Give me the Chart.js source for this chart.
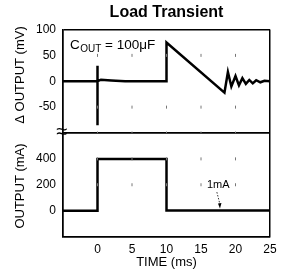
<!DOCTYPE html>
<html><head><meta charset="utf-8">
<script src="https://cdn.jsdelivr.net/npm/chart.js@4/dist/chart.umd.min.js"></script>
<style>html,body{margin:0;padding:0;background:#fff}#wrap{width:287px;height:276px;position:relative}</style>
</head><body><div id="wrap"><canvas id="c" width="287" height="276"></canvas></div>
<script>
// ---- data ----
const timeTicks = [-5, 0, 5, 10, 15, 20, 25];
const mvTicks = [-100, -50, 0, 50, 100];
const maTicks = [-200, 0, 200, 400, 600];

const voltTime  = [-5, 0, 0, 0, 0, 0.5, 2, 4, 10, 10, 18.4, 18.9, 19.4, 20.0, 20.5, 21.0, 21.5, 22.0, 22.5, 23.0, 23.6, 24.2, 25];
const voltDelta = [ 0, 0, 30, -85, 0, 3, 1.5, 0, 0, 75, -22, 18, -10, 10, -8, 6, -5, 2.5, -4, 2, -2, 1, 0];

const currTime = [-5, 0, 0, 10, 10, 25];
const currLoad = [ 0, 0, 400, 400, 1, 1];

const dotTimes = [0, 5, 10, 15, 20];
const dotMv = [-100, -50, 50];
const dotMa = [200, 400];

const FONT = "'Liberation Sans', Arial, Helvetica, sans-serif";

const toPts = (xs, ys) => xs.map((x, i) => ({x: x, y: ys[i]}));
const grid = (xs, ys) => { const o = []; xs.forEach(x => ys.forEach(y => o.push({x, y}))); return o; };
const edgeColor = edges => ctx => (ctx.tick && edges.includes(ctx.tick.value)) ? '#000' : 'rgba(0,0,0,0)';
const setTicks = vals => s => { s.ticks = vals.map(v => ({value: v})); };

const textPlugin = {
  id: 'texts',
  afterDraw(chart) {
    const c = chart.ctx, a = chart.chartArea, xs = chart.scales.x, yV = chart.scales.yV, yI = chart.scales.yI;
    c.save();
    c.fillStyle = '#000';
    c.textBaseline = 'middle';
    // title
    c.font = 'bold 16px ' + FONT; c.textAlign = 'center';
    c.fillText('Load Transient', (a.left + a.right) / 2, 13);
    // x title
    c.font = '13px ' + FONT;
    c.fillText('TIME (ms)', (a.left + a.right) / 2, 262);
    // y titles
    c.save(); c.translate(20, 75); c.rotate(-Math.PI / 2); c.fillText('\u0394 OUTPUT (mV)', 0, 0); c.restore();
    c.save(); c.translate(20, 186); c.rotate(-Math.PI / 2); c.fillText('OUTPUT (mA)', 0, 0); c.restore();
    // break mark
    c.font = '20px ' + FONT;
    c.fillText('\u2248', a.left - 1, yV.bottom - 1);
    // C_OUT annotation
    c.textAlign = 'left';
    let px = xs.getPixelForValue(-4), py = yV.getPixelForValue(69);
    c.font = '13.5px ' + FONT; c.fillText('C', px, py); px += c.measureText('C').width + 0.5;
    c.font = '10px ' + FONT; c.fillText('OUT', px, py + 4); px += c.measureText('OUT').width;
    c.font = '13.5px ' + FONT; c.fillText(' = 100\u03bcF', px, py);
    // 1mA annotation
    c.textAlign = 'center';
    c.font = '11px ' + FONT;
    c.fillText('1mA', xs.getPixelForValue(17.5), yI.getPixelForValue(196));
    const x0 = xs.getPixelForValue(17.3), y0 = yI.getPixelForValue(143);
    const x1 = xs.getPixelForValue(17.75), y1 = yI.getPixelForValue(25);
    c.strokeStyle = '#000'; c.lineWidth = 0.8; c.setLineDash([1.5, 1.5]);
    c.beginPath(); c.moveTo(x0, y0); c.lineTo(x1, y1 - 3); c.stroke();
    c.setLineDash([]);
    c.beginPath(); c.moveTo(x1, y1 + 1); c.lineTo(x1 - 2, y1 - 4); c.lineTo(x1 + 1.5, y1 - 4.5); c.closePath(); c.fill();
    c.restore();
  }
};

const tickFont = {family: FONT, size: 12};

new Chart(document.getElementById('c'), {
  type: 'scatter',
  data: {
    datasets: [
      {data: grid(dotTimes, dotMv), yAxisID: 'yV', pointStyle: 'line', rotation: 90, radius: 1.5, borderColor: '#777', borderWidth: 1, showLine: false},
      {data: grid(dotTimes, dotMa), yAxisID: 'yI', pointStyle: 'line', rotation: 90, radius: 1.5, borderColor: '#777', borderWidth: 1, showLine: false},
      {data: toPts(voltTime, voltDelta), yAxisID: 'yV', showLine: true, borderColor: '#000', borderWidth: 2.5, pointRadius: 0, tension: 0, borderJoinStyle: 'miter'},
      {data: toPts(currTime, currLoad), yAxisID: 'yI', showLine: true, borderColor: '#000', borderWidth: 2.5, pointRadius: 0, tension: 0, borderJoinStyle: 'miter'}
    ]
  },
  options: {
    responsive: false, animation: false, devicePixelRatio: 1,
    layout: {padding: {left: 0, right: 17, top: 29.5, bottom: 0}},
    plugins: {legend: {display: false}, tooltip: {enabled: false}, title: {display: false}},
    scales: {
      x: {
        type: 'linear', position: 'bottom', min: -5, max: 25,
        afterBuildTicks: setTicks(timeTicks),
        afterFit: s => { s.height = 39.5; },
        ticks: {color: '#000', font: tickFont, padding: 6, maxRotation: 0, autoSkip: false,
                callback: v => v === -5 ? '' : String(v)},
        grid: {color: edgeColor([-5, 25]), lineWidth: 1.5, drawTicks: false},
        border: {color: '#000', width: 1.5}
      },
      yI: {
        type: 'linear', position: 'left', stack: 'panels', stackWeight: 1, min: -200, max: 600,
        afterBuildTicks: setTicks(maTicks),
        afterFit: s => { s.width = 63; },
        ticks: {color: '#000', font: tickFont, padding: 7, autoSkip: false,
                callback: v => (v === -200 || v === 600) ? '' : String(v)},
        grid: {color: edgeColor([-200, 600]), lineWidth: 1.5, drawTicks: false},
        border: {color: '#000', width: 1.5}
      },
      yV: {
        type: 'linear', position: 'left', stack: 'panels', stackWeight: 1, min: -100, max: 100,
        afterBuildTicks: setTicks(mvTicks),
        afterFit: s => { s.width = 63; },
        ticks: {color: '#000', font: tickFont, padding: 7, autoSkip: false,
                callback: v => v === -100 ? '' : String(v)},
        grid: {color: edgeColor([-100, 100]), lineWidth: 1.5, drawTicks: false},
        border: {color: '#000', width: 1.5}
      }
    }
  },
  plugins: [textPlugin]
});
</script>
</body></html>
